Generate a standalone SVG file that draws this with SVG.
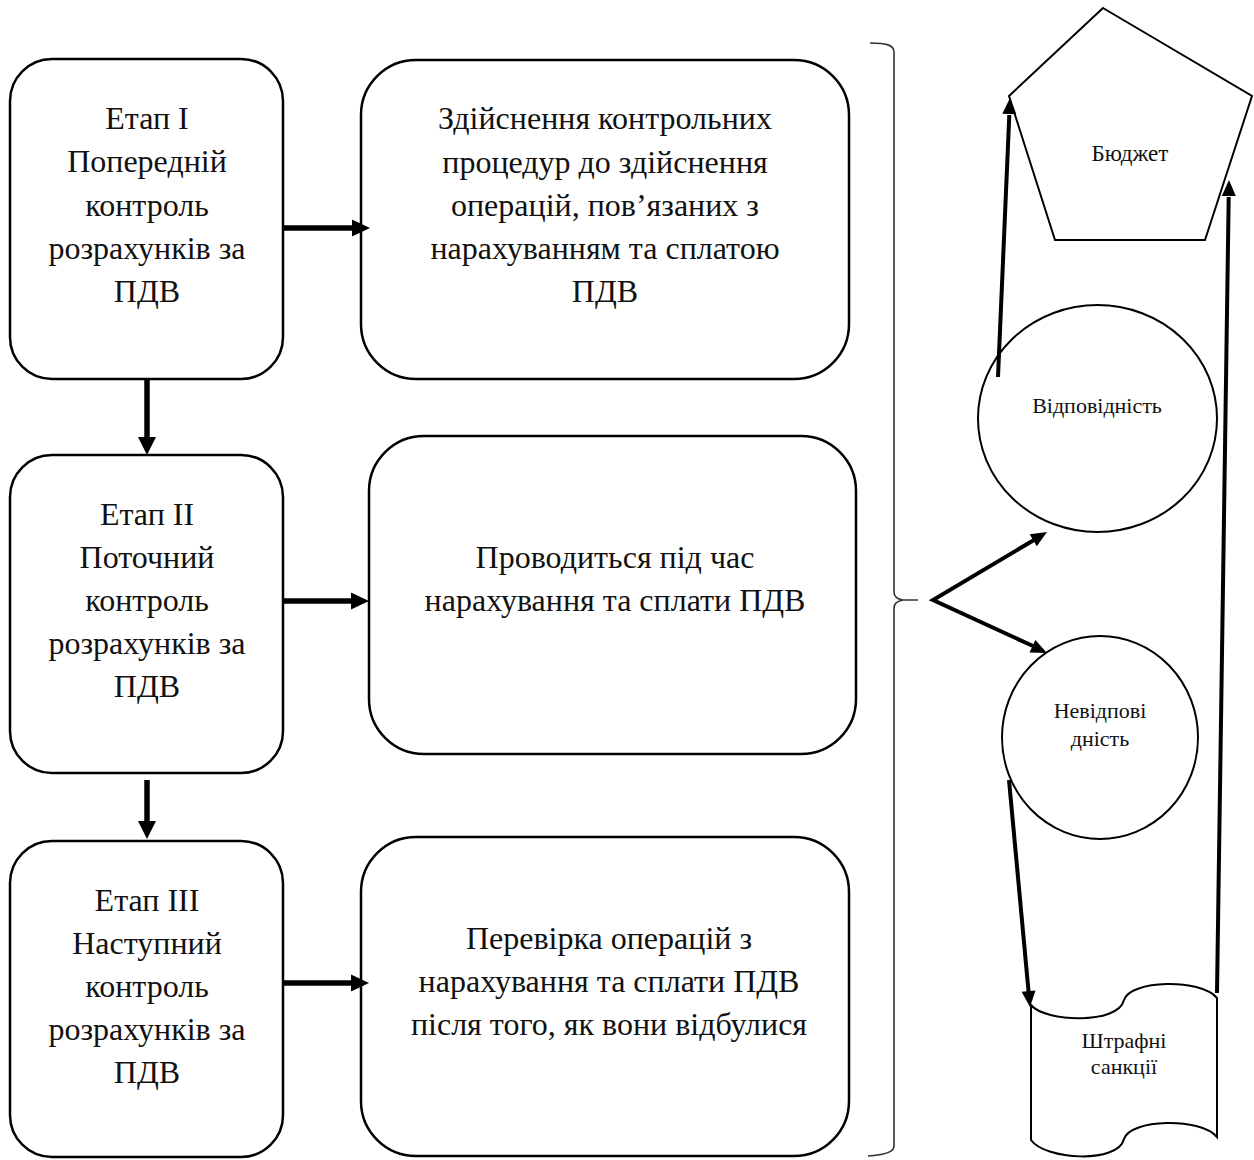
<svg xmlns="http://www.w3.org/2000/svg" width="1254" height="1160" viewBox="0 0 1254 1160">
<style>
.box{fill:#fff;stroke:#000;stroke-width:2.5}
.shape{fill:#fff;stroke:#000;stroke-width:2}
.t{font-family:"Liberation Serif","Times New Roman",serif;font-size:32px;fill:#111;text-anchor:middle}
.s{font-family:"Liberation Serif","Times New Roman",serif;font-size:22px;fill:#111;text-anchor:middle}
.a{stroke:#000;stroke-width:5.5;fill:none}
.b{stroke:#000;stroke-width:4;fill:none}
.head{fill:#000;stroke:none}
.brace{stroke:#333;stroke-width:1.6;fill:none}
</style>
<rect width="1254" height="1160" fill="#fff"/>

<g id="stage1">
<rect class="box" x="10" y="59" width="273" height="320" rx="42"/>
<text class="t" x="147" y="129">Етап I</text>
<text class="t" x="147" y="172">Попередній</text>
<text class="t" x="147" y="216">контроль</text>
<text class="t" x="147" y="259">розрахунків за</text>
<text class="t" x="147" y="302">ПДВ</text>
</g>
<g id="stage2">
<rect class="box" x="10" y="455" width="273" height="318" rx="42"/>
<text class="t" x="147" y="525">Етап II</text>
<text class="t" x="147" y="568">Поточний</text>
<text class="t" x="147" y="611">контроль</text>
<text class="t" x="147" y="654">розрахунків за</text>
<text class="t" x="147" y="697">ПДВ</text>
</g>
<g id="stage3">
<rect class="box" x="10" y="841" width="273" height="316" rx="42"/>
<text class="t" x="147" y="911">Етап III</text>
<text class="t" x="147" y="954">Наступний</text>
<text class="t" x="147" y="997">контроль</text>
<text class="t" x="147" y="1040">розрахунків за</text>
<text class="t" x="147" y="1083">ПДВ</text>
</g>
<g id="desc1">
<rect class="box" x="361" y="60" width="488" height="319" rx="55"/>
<text class="t" x="605" y="129">Здійснення контрольних</text>
<text class="t" x="605" y="173">процедур до здійснення</text>
<text class="t" x="605" y="216">операцій, пов’язаних з</text>
<text class="t" x="605" y="259">нарахуванням та сплатою</text>
<text class="t" x="605" y="302">ПДВ</text>
</g>
<g id="desc2">
<rect class="box" x="369" y="436" width="487" height="318" rx="55"/>
<text class="t" x="615" y="568">Проводиться під час</text>
<text class="t" x="615" y="611">нарахування та сплати ПДВ</text>
</g>
<g id="desc3">
<rect class="box" x="361" y="837" width="488" height="319" rx="55"/>
<text class="t" x="609" y="949">Перевірка операцій з</text>
<text class="t" x="609" y="992">нарахування та сплати ПДВ</text>
<text class="t" x="609" y="1035">після того, як вони відбулися</text>
</g>

<g id="brace">
<path class="brace" d="M870,43 C886,43 894,45 894,52 L894,592 C894,597 897,599 903,600 L918,600 M903,600 C897,601 894,603 894,608 L894,1146 C894,1152 886,1155 868,1156"/>
</g>

<g id="budget">
<polygon class="shape" points="1103,8 1252,96 1205,240 1055,240 1009,96"/>
<text class="s" x="1130" y="161" style="font-size:23px">Бюджет</text>
</g>
<g id="compliance">
<ellipse class="shape" cx="1097.5" cy="418.5" rx="119.5" ry="113.5"/>
<text class="s" x="1097" y="413">Відповідність</text>
</g>
<g id="noncompliance">
<ellipse class="shape" cx="1100" cy="737.5" rx="98" ry="101.5"/>
<text class="s" x="1100" y="718">Невідпові</text>
<text class="s" x="1100" y="746">дність</text>
</g>
<g id="penalties">
<path class="shape" d="M1031,1005 C1045,1022 1118,1025 1124,1000 C1130,980 1200,978 1217,998 L1217,1137 C1200,1117 1130,1119 1124,1139 C1118,1164 1045,1160 1031,1140 Z"/>
<text class="s" x="1124" y="1048">Штрафні</text>
<text class="s" x="1124" y="1074">санкції</text>
</g>

<g id="connectors">
<line class="a" x1="283" y1="228" x2="354" y2="228"/>
<polygon class="head" points="352,219.5 370,228 352,236.5"/>
<line class="a" x1="283" y1="601" x2="353" y2="601"/>
<polygon class="head" points="351,592.5 369,601 351,609.5"/>
<line class="a" x1="283" y1="983" x2="353" y2="983"/>
<polygon class="head" points="351,974.5 369,983 351,991.5"/>
<line class="a" x1="147" y1="379" x2="147" y2="439"/>
<polygon class="head" points="138,437 147,455 156,437"/>
<line class="a" x1="147" y1="780" x2="147" y2="823"/>
<polygon class="head" points="138,821 147,839 156,821"/>
<polyline class="b" points="1034,540 933,600 1033,646" stroke-linejoin="miter"/>
<polygon class="head" points="1036.8,546.2 1047,532 1029.7,534.2"/>
<polygon class="head" points="1029.5,652.6 1047,653 1035.4,639.9"/>
<line class="b" x1="998" y1="377" x2="1009.3" y2="115"/>
<polygon class="head" points="1016.3,114.3 1010,98 1002.3,113.7"/>
<line class="b" x1="1217" y1="993" x2="1228.7" y2="197"/>
<polygon class="head" points="1235.8,196.1 1229,180 1221.8,195.9"/>
<line class="b" x1="1009" y1="780" x2="1028.6" y2="992"/>
<polygon class="head" points="1021.6,991.7 1030,1007 1035.5,990.4"/>
</g>
</svg>
